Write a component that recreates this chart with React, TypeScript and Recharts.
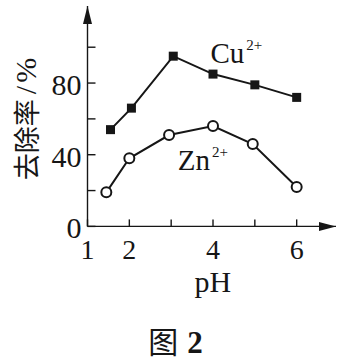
import { LineChart, Line, XAxis, YAxis, ReferenceDot } from "recharts";

// Removal rate (%) vs pH
const CU_PH = [1.55, 2.05, 3.05, 4, 5, 6];
const CU_RATE = [54, 66, 95, 85, 79, 72];
const ZN_PH = [1.45, 2, 2.95, 4, 4.95, 6];
const ZN_RATE = [19, 38, 51, 56, 46, 22];

const X_TICKS = [1, 2, 3, 4, 5, 6];
const X_LABELED = [1, 2, 4, 6];
const Y_TICKS = [0, 20, 40, 60, 80, 100];
const Y_LABELED = [0, 40, 80];

const X_MAX = 6.94;
const Y_MAX = 123;

const INK = "#161616";
const SERIF = '"Liberation Serif", "Times New Roman", serif';
const CJK = '"Noto Sans CJK SC", sans-serif';

const cuData = CU_PH.map((ph, i) => ({ ph, rate: CU_RATE[i] }));
const znData = ZN_PH.map((ph, i) => ({ ph, rate: ZN_RATE[i] }));

// ticks point inward, so draw the mark and the label ourselves
function YTick({ x, y, payload }: any) {
  const v = payload.value;
  return (
    <g>
      <line x1={x} y1={y} x2={x + 8} y2={y} stroke={INK} strokeWidth={1.4} />
      {Y_LABELED.includes(v) && (
        <text x={x - 6} y={y + 12} textAnchor="end" fontFamily={SERIF} fontSize={30} fill={INK}>
          {v}
        </text>
      )}
    </g>
  );
}

function XTick({ x, y, payload }: any) {
  const v = payload.value;
  return (
    <g>
      <line x1={x} y1={y} x2={x} y2={y - 7} stroke={INK} strokeWidth={1.4} />
      {X_LABELED.includes(v) && (
        <text x={x} y={y + 33} textAnchor="middle" fontFamily={SERIF} fontSize={28} fill={INK}>
          {v}
        </text>
      )}
    </g>
  );
}

function SquareDot({ cx, cy }: any) {
  return <rect x={cx - 4.5} y={cy - 4.5} width={9} height={9} fill={INK} />;
}

function RingDot({ cx, cy }: any) {
  return <circle cx={cx} cy={cy} r={5} fill="#fff" stroke={INK} strokeWidth={2} />;
}

function IonLabel(name: string) {
  return ({ cx, cy }: any) => (
    <text x={cx} y={cy} fontFamily={SERIF} fontSize={29} fill={INK}>
      {name}
      <tspan dx={2} dy={-13} fontSize={15}>
        2+
      </tspan>
    </text>
  );
}

export default function App() {
  return (
    <div style={{ position: "absolute", left: 0, top: 0, width: 357, height: 361, background: "#fff" }}>
      <LineChart width={357} height={361} margin={{ top: 6, right: 21, bottom: 0, left: 0 }}>
        <XAxis
          type="number"
          dataKey="ph"
          domain={[1, X_MAX]}
          ticks={X_TICKS}
          height={134.6}
          tickSize={0}
          tickMargin={0}
          tickLine={false}
          tick={<XTick />}
          axisLine={{ stroke: INK, strokeWidth: 1.4 }}
          label={{
            content: ({ viewBox }: any) => (
              <text
                x={viewBox.x + viewBox.width / 2 + 1}
                y={viewBox.y + 66}
                textAnchor="middle"
                fontFamily={SERIF}
                fontSize={30}
                fill={INK}
              >
                pH
              </text>
            ),
          }}
        />
        <YAxis
          type="number"
          domain={[0, Y_MAX]}
          ticks={Y_TICKS}
          width={87.5}
          tickSize={0}
          tickMargin={0}
          tickLine={false}
          tick={<YTick />}
          axisLine={{ stroke: INK, strokeWidth: 1.4 }}
          label={{
            content: () => {
              const cx = 25;
              const cy = 117.5;
              return (
                <text
                  x={cx}
                  y={cy}
                  transform={`rotate(-90 ${cx} ${cy})`}
                  textAnchor="middle"
                  dominantBaseline="central"
                  fontFamily={CJK}
                  fontSize={27}
                  fill={INK}
                >
                  去除率
                  <tspan dx={5} fontFamily={SERIF} fontSize={30} letterSpacing={3}>
                    /%
                  </tspan>
                </text>
              );
            },
          }}
        />

        {/* axis arrowheads */}
        <ReferenceDot
          x={1}
          y={Y_MAX}
          ifOverflow="visible"
          shape={({ cx, cy }: any) => (
            <path d={`M${cx},${cy} L${cx - 4.5},${cy + 18} L${cx + 4.5},${cy + 18} Z`} fill={INK} />
          )}
        />
        <ReferenceDot
          x={X_MAX}
          y={0}
          ifOverflow="visible"
          shape={({ cx, cy }: any) => (
            <path d={`M${cx},${cy} L${cx - 17},${cy - 4.5} L${cx - 17},${cy + 4.5} Z`} fill={INK} />
          )}
        />

        <Line
          data={cuData}
          dataKey="rate"
          type="linear"
          stroke={INK}
          strokeWidth={2}
          dot={<SquareDot />}
          activeDot={false}
          isAnimationActive={false}
        />
        <Line
          data={znData}
          dataKey="rate"
          type="linear"
          stroke={INK}
          strokeWidth={2}
          dot={<RingDot />}
          activeDot={false}
          isAnimationActive={false}
        />

        {/* series names */}
        <ReferenceDot x={3.94} y={91.3} ifOverflow="visible" shape={IonLabel("Cu")} />
        <ReferenceDot x={3.16} y={31.5} ifOverflow="visible" shape={IonLabel("Zn")} />
      </LineChart>

      <svg width={357} height={361} style={{ position: "absolute", left: 0, top: 0, pointerEvents: "none" }}>
        <text x={175.5} y={353} textAnchor="middle" fill={INK}>
          <tspan fontFamily={CJK} fontSize={30}>
            图
          </tspan>
          <tspan dx={9} fontFamily={SERIF} fontSize={31} fontWeight="bold">
            2
          </tspan>
        </text>
      </svg>
    </div>
  );
}
